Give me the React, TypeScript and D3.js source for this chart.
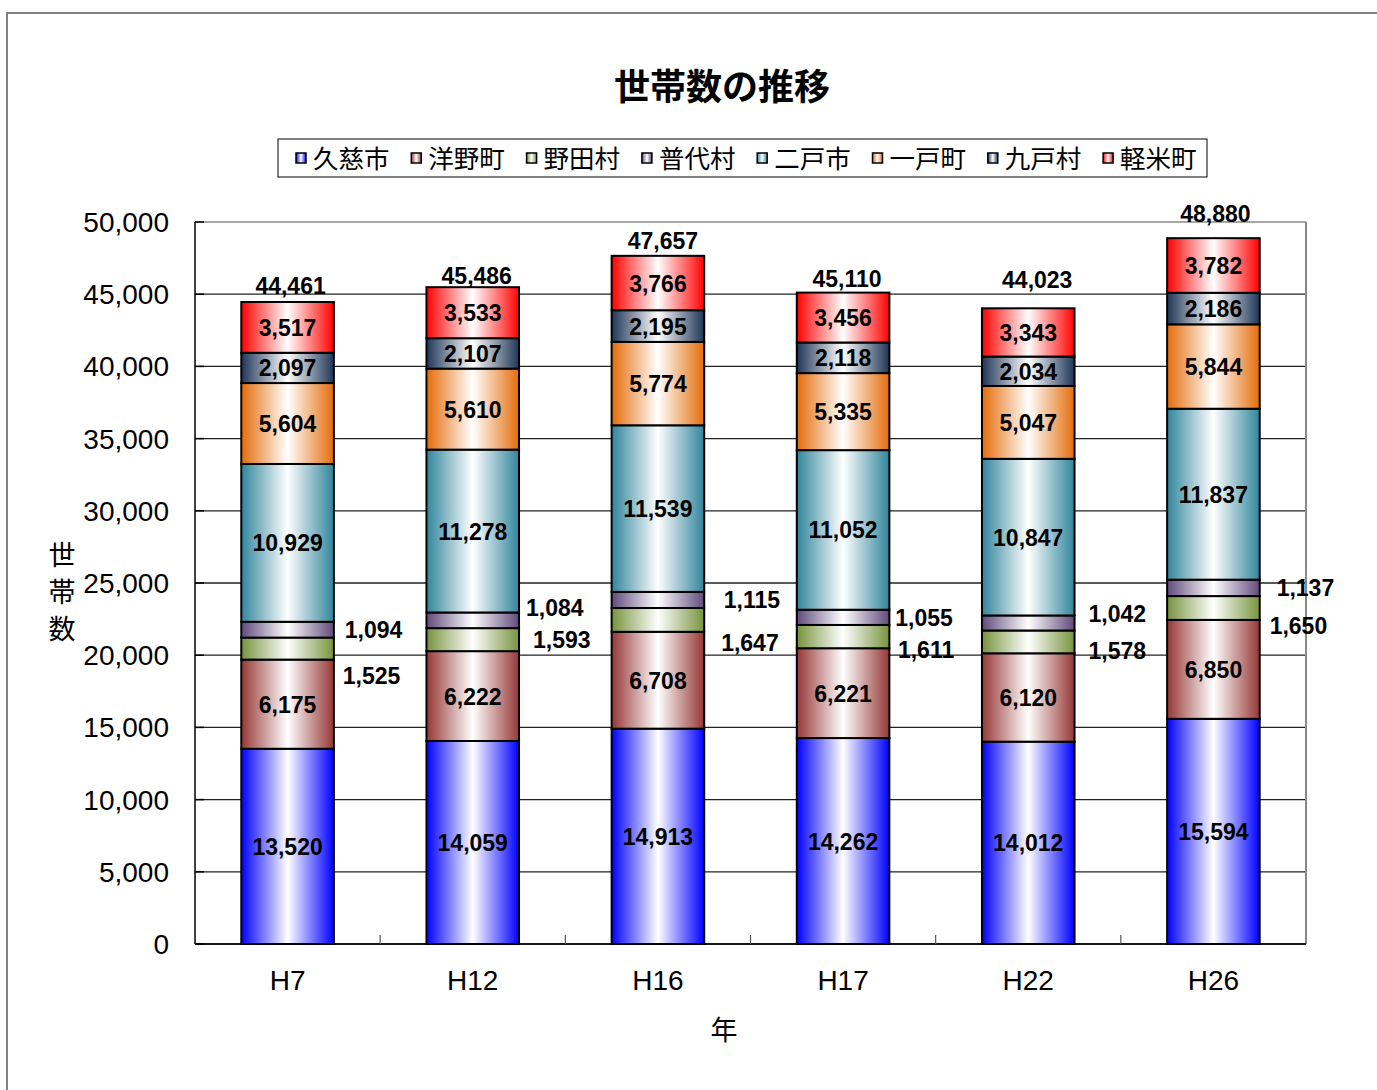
import React from "react";
import * as d3 from "d3";

const categories = ["H7", "H12", "H16", "H17", "H22", "H26"];
const seriesNames = ["久慈市", "洋野町", "野田村", "普代村", "二戸市", "一戸町", "九戸村", "軽米町"];
const kuji = [13520, 14059, 14913, 14262, 14012, 15594];
const hirono = [6175, 6222, 6708, 6221, 6120, 6850];
const noda = [1525, 1593, 1647, 1611, 1578, 1650];
const fudai = [1094, 1084, 1115, 1055, 1042, 1137];
const ninohe = [10929, 11278, 11539, 11052, 10847, 11837];
const ichinohe = [5604, 5610, 5774, 5335, 5047, 5844];
const kunohe = [2097, 2107, 2195, 2118, 2034, 2186];
const karumai = [3517, 3533, 3766, 3456, 3343, 3782];
const totals = [44461, 45486, 47657, 45110, 44023, 48880];
const yTicks = [0, 5000, 10000, 15000, 20000, 25000, 30000, 35000, 40000, 45000, 50000];

const seriesValues = [kuji, hirono, noda, fudai, ninohe, ichinohe, kunohe, karumai];
const colors = ["#0000FF", "#953735", "#77933C", "#604A7B", "#31859C", "#E46C0A", "#1F3557", "#FF0000"];

// label placement nudges (style)
const outsideSeries = [2, 3];
const outsideDx: Record<number, number[]> = {
  2: [84, 89, 92, 83, 89, 85],
  3: [86, 82, 94, 81, 89, 92],
};
const outsideDy: Record<number, number[]> = {
  2: [27, 0, 23, 13, 9, 18],
  3: [0, -13, 0, 0, -9, 0],
};
const totalDy = [-16, -12, -15, -14, -29, -25];
const totalDx = [3, 4, 5, 4, 9, 2];

const fmt = d3.format(",");
const NUM_FONT = "'Liberation Sans', Arial, 'Noto Sans CJK JP', sans-serif";
const JP_FONT = "'Noto Sans CJK JP', 'Liberation Sans', sans-serif";

export default function App() {
  const W = 1377, H = 1090;
  const left = 195, right = 1306, top = 222, bottom = 944;

  const table = categories.map((c, i) => {
    const row: any = { cat: c };
    seriesNames.forEach((s, j) => (row[s] = seriesValues[j][i]));
    return row;
  });
  const stacked = d3.stack().keys(seriesNames)(table as any);

  const x = d3.scaleBand().domain(categories).range([left, right]).paddingInner(0.5).paddingOuter(0.25);
  const y = d3.scaleLinear().domain([0, 50000]).range([bottom, top]);
  const step = x.step();

  const legendX0 = 296;
  const legendStep = 115.3;

  return (
    <svg width={W} height={H} style={{ position: "absolute", left: 0, top: 0, background: "#fff" }}>
      <defs>
        {colors.map((c, i) => (
          <linearGradient id={`g${i}`} key={i} x1="0" x2="1" y1="0" y2="0">
            <stop offset="0%" stopColor={c} />
            <stop offset="50%" stopColor="#FFFFFF" />
            <stop offset="100%" stopColor={c} />
          </linearGradient>
        ))}
      </defs>
      <rect x={0} y={0} width={W} height={H} fill="#fff" />
      <rect x={7} y={13} width={W + 20} height={H + 20} fill="none" stroke="#808080" strokeWidth={2} />

      {/* title */}
      <text x={722} y={100} textAnchor="middle" fontFamily={JP_FONT} fontWeight="bold" fontSize={36} fill="#000">
        世帯数の推移
      </text>

      {/* legend */}
      <rect x={278} y={139} width={929} height={38} fill="#fff" stroke="#000" strokeWidth={1} />
      {seriesNames.map((s, i) => {
        const lx = legendX0 + i * legendStep;
        return (
          <g key={s}>
            <rect x={lx} y={153} width={10} height={10} fill={`url(#g${i})`} stroke="#000" strokeWidth={1.5} />
            <text x={lx + 17} y={168} fontFamily={JP_FONT} fontSize={25.5} fill="#000">
              {s}
            </text>
          </g>
        );
      })}

      {/* gridlines */}
      {yTicks.map((t) => (
        <line key={t} x1={left} x2={right} y1={y(t)} y2={y(t)} stroke={t === 50000 ? "#888" : "#222"} strokeWidth={1.3} />
      ))}
      <line x1={right} x2={right} y1={top} y2={bottom} stroke="#888" strokeWidth={2} />
      {/* y axis */}
      <line x1={left} x2={left} y1={top} y2={bottom} stroke="#000" strokeWidth={1.5} />
      {yTicks.map((t) => (
        <g key={"yt" + t}>
          <line x1={left} x2={left + 9} y1={y(t)} y2={y(t)} stroke="#000" strokeWidth={1.5} />
          <text x={169} y={y(t) + 10} textAnchor="end" fontFamily={NUM_FONT} fontSize={28} fill="#000">
            {fmt(t)}
          </text>
        </g>
      ))}

      {/* bars */}
      {stacked.map((layer, j) => (
        <g key={layer.key}>
          {layer.map((d, i) => {
            const cat = categories[i];
            const bx = x(cat)!;
            const y0 = y(d[1]);
            const y1 = y(d[0]);
            return (
              <rect key={cat} x={bx} y={y0} width={x.bandwidth()} height={y1 - y0} fill={`url(#g${j})`} stroke="#000" strokeWidth={2} />
            );
          })}
        </g>
      ))}

      {/* x axis */}
      <line x1={left} x2={right} y1={bottom} y2={bottom} stroke="#000" strokeWidth={1.5} />
      {d3.range(1, categories.length).map((k) => (
        <line key={"xt" + k} x1={left + k * step} x2={left + k * step} y1={bottom} y2={bottom - 9} stroke="#555" strokeWidth={1.2} />
      ))}
      {categories.map((c) => (
        <text key={"xl" + c} x={x(c)! + x.bandwidth() / 2} y={990} textAnchor="middle" fontFamily={NUM_FONT} fontSize={28} fill="#000">
          {c}
        </text>
      ))}

      {/* value labels */}
      {stacked.map((layer, j) => (
        <g key={"lab" + layer.key}>
          {layer.map((d, i) => {
            const cat = categories[i];
            const cx = x(cat)! + x.bandwidth() / 2;
            const cy = y((d[0] + d[1]) / 2);
            const v = seriesValues[j][i];
            const outside = outsideSeries.includes(j);
            const lx = outside ? cx + outsideDx[j][i] : cx;
            const ly = outside ? cy + outsideDy[j][i] : cy;
            return (
              <text key={cat} x={lx} y={ly + 8.5} textAnchor="middle" fontFamily={NUM_FONT} fontWeight="bold" fontSize={23} fill="#000">
                {fmt(v)}
              </text>
            );
          })}
        </g>
      ))}

      {/* totals */}
      {categories.map((c, i) => (
        <text key={"tot" + c} x={x(c)! + x.bandwidth() / 2 + totalDx[i]} y={y(totals[i]) + totalDy[i] + 8.5} textAnchor="middle" fontFamily={NUM_FONT} fontWeight="bold" fontSize={23} fill="#000">
          {fmt(totals[i])}
        </text>
      ))}

      {/* axis titles */}
      {["世", "帯", "数"].map((ch, k) => (
        <text key={ch} x={62} y={565 + k * 37} textAnchor="middle" fontFamily={JP_FONT} fontSize={27} fill="#000">
          {ch}
        </text>
      ))}
      <text x={724} y={1040} textAnchor="middle" fontFamily={JP_FONT} fontSize={27} fill="#000">
        年
      </text>
    </svg>
  );
}
